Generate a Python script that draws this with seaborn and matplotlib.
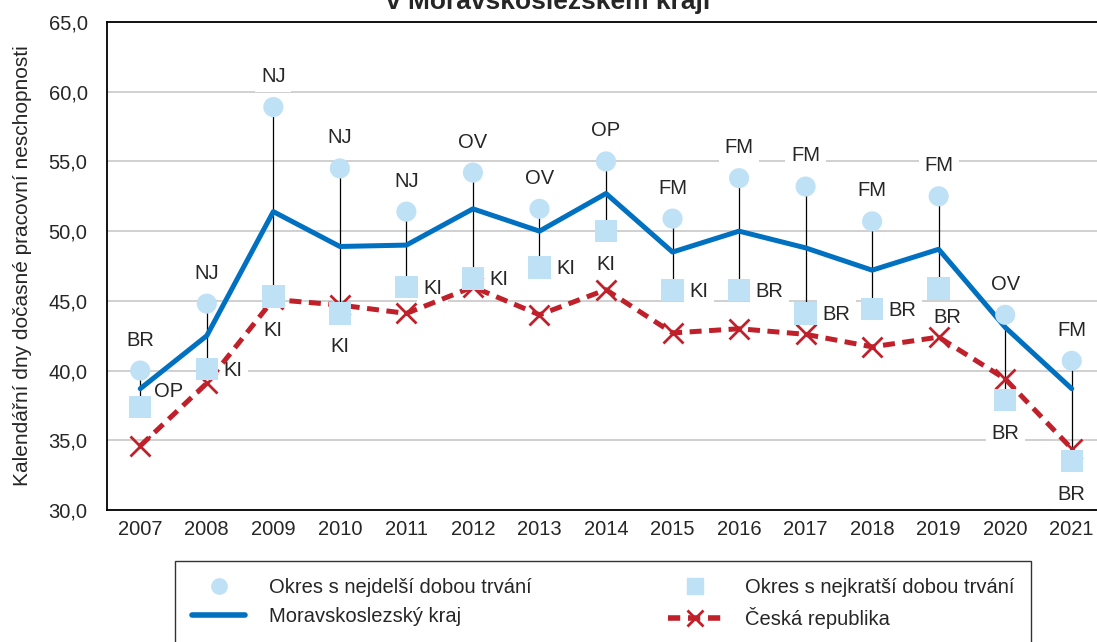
import numpy as np
import pandas as pd
import matplotlib
matplotlib.use("Agg")
import matplotlib.pyplot as plt
from matplotlib.lines import Line2D
import seaborn as sns

# data
roky = [str(r) for r in range(2007, 2022)]
okres_max = [40.0, 44.8, 58.9, 54.5, 51.4, 54.2, 51.6, 55.0, 50.9, 53.8, 53.2, 50.7, 52.5, 44.0, 40.7]
okres_min = [37.4, 40.1, 45.3, 44.1, 46.0, 46.6, 47.4, 50.0, 45.8, 45.8, 44.1, 44.4, 45.9, 37.9, 33.5]
msk = [38.7, 42.5, 51.4, 48.9, 49.0, 51.6, 50.0, 52.7, 48.5, 50.0, 48.8, 47.2, 48.7, 43.1, 38.7]
cr = [34.6, 39.1, 45.1, 44.7, 44.1, 46.0, 44.0, 45.8, 42.7, 43.0, 42.6, 41.7, 42.4, 39.4, 34.4]
popis_max = ["BR", "NJ", "NJ", "NJ", "NJ", "OV", "OV", "OP", "FM", "FM", "FM", "FM", "FM", "OV", "FM"]
popis_min = ["OP", "KI", "KI", "KI", "KI", "KI", "KI", "KI", "KI", "BR", "BR", "BR", "BR", "BR", "BR"]
# kam dat popisek minima: vpravo (r), vpravo nahoru (ru), dole (d), dole vpravo (dr)
pozice_min = ["ru", "r", "d", "d", "r", "r", "r", "d", "r", "r", "r", "r", "dr", "d", "d"]

df = pd.DataFrame({"rok": roky, "max": okres_max, "min": okres_min, "msk": msk, "cr": cr})

sns.set_style("white")
plt.rcParams["font.family"] = ["Liberation Sans", "DejaVu Sans"]

modra_sv = "#bfe1f6"
modra = "#0070c0"
cervena = "#c0202a"
fs = 14.5

fig = plt.figure(figsize=(10.97, 6.42), dpi=100)
ax = fig.add_axes([107 / 1097, 1 - 510 / 642, (1105 - 107) / 1097, (510 - 22) / 642])

# svisle cary max-min
ax.vlines(df["rok"], df["min"], df["max"], color="black", lw=0.9, zorder=2)

sns.lineplot(data=df, x="rok", y="msk", ax=ax, color=modra, lw=3.6, zorder=3, sort=False)
sns.lineplot(data=df, x="rok", y="cr", ax=ax, color=cervena, lw=3.6, zorder=4, sort=False,
             linestyle=(0, (2.4, 1.5)), marker="x", markersize=15, mew=2,
             markeredgecolor=cervena)
sns.scatterplot(data=df, x="rok", y="max", ax=ax, color=modra_sv, s=210, marker="o",
                edgecolor="none", zorder=5)
sns.scatterplot(data=df, x="rok", y="min", ax=ax, color=modra_sv, s=260, marker="s",
                edgecolor="none", zorder=5)

# popisky okresu - bile pozadi jen prekryva mrizku
box = dict(facecolor="white", edgecolor="none", pad=4)
offsety = {"r": (12, -1, "left"), "ru": (10, 11, "left"), "d": (0, -24, "center"),
           "dr": (6, -21, "center")}
for i, r in enumerate(roky):
    ax.annotate(popis_max[i], (r, okres_max[i]), xytext=(0, 22), textcoords="offset points",
                ha="center", va="center", fontsize=fs, bbox=box, zorder=2.5)
    dx, dy, ha = offsety[pozice_min[i]]
    ax.annotate(popis_min[i], (r, okres_min[i]), xytext=(dx, dy), textcoords="offset points",
                ha=ha, va="center", fontsize=fs, bbox=box, zorder=2.5)

ax.set_xlim(-0.5, len(roky) - 0.5)
ax.set_ylim(30, 65)
ax.set_yticks(np.arange(30, 66, 5))
ax.set_yticklabels([f"{v:.1f}".replace(".", ",") for v in np.arange(30, 66, 5)])
ax.set_xticks(np.arange(-0.5, len(roky), 1), minor=True)
ax.tick_params(axis="x", which="major", length=0, labelsize=fs, pad=7)
ax.tick_params(axis="x", which="minor", length=6, width=1, color="black", direction="out")
ax.tick_params(axis="y", length=6, width=1, color="black", direction="out", labelsize=fs, pad=8)
ax.yaxis.grid(True, color="#c8c8c8", lw=1.2)
ax.set_axisbelow(True)
for s in ["left", "bottom", "top"]:
    ax.spines[s].set_color("black")
    ax.spines[s].set_linewidth(1.3)
ax.spines["right"].set_visible(False)
ax.set_xlabel("")
ax.set_ylabel("Kalendářní dny dočasné pracovní neschopnosti", fontsize=15, labelpad=12)

fig.text(0.5, 1 - 9 / 642, "v Moravskoslezském kraji", ha="center", va="baseline",
         fontsize=19, fontweight="bold")

handles = [
    Line2D([], [], ls="none", marker="o", color=modra_sv, markersize=11),
    Line2D([], [], color=modra, lw=4),
    Line2D([], [], ls="none", marker="s", color=modra_sv, markersize=12),
    Line2D([], [], color=cervena, lw=4, ls=(0, (2.2, 1.4)), marker="x", markersize=12, mew=2),
]
labels = ["Okres s nejdelší dobou trvání", "Moravskoslezský kraj",
          "Okres s nejkratší dobou trvání", "Česká republika"]
leg = fig.legend(handles, labels, ncol=2, loc="upper left",
                 bbox_to_anchor=(175 / 1097, 1 - 561 / 642, (1031 - 175) / 1097, 0),
                 mode="expand", frameon=True, fancybox=False, edgecolor="black",
                 fontsize=fs, handlelength=2.65, borderpad=0.85, labelspacing=0.5,
                 handletextpad=1.15, borderaxespad=0)
leg.get_frame().set_linewidth(1.0)

fig.savefig("out.png", dpi=100)
